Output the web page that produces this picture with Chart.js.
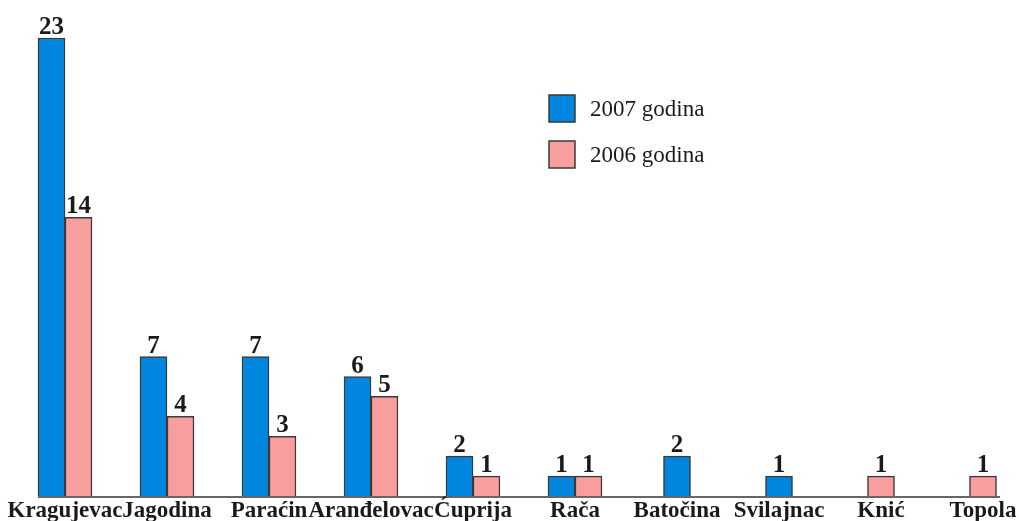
<!DOCTYPE html>
<html>
<head>
<meta charset="utf-8">
<script src="https://cdn.jsdelivr.net/npm/chart.js@4/dist/chart.umd.min.js"></script>
<style>
  html, body { margin: 0; padding: 0; background: #fff; }
  #wrap { width: 1019px; height: 521px; }
</style>
</head>
<body>
<div id="wrap"><canvas id="barChart" width="1019" height="521"></canvas></div>
<script>
const categories = ['Kragujevac', 'Jagodina', 'Paraćin', 'Aranđelovac', 'Ćuprija', 'Rača', 'Batočina', 'Svilajnac', 'Knić', 'Topola'];
const values2007 = [23, 7, 7, 6, 2, 1, 2, 1, null, null];
const values2006 = [14, 4, 3, 5, 1, 1, null, null, 1, 1];
const seriesLabels = ['2007 godina', '2006 godina'];

const BLUE = 'rgb(0, 134, 222)';
const PINK = 'rgb(248, 158, 158)';
const EDGE = '#3a3a3a';
const INK = '#1a1a1a';
const SERIF = "'Liberation Serif', 'Times New Roman', serif";

// value above every bar
const valueLabels = {
    id: 'valueLabels',
    afterDatasetsDraw(chart) {
        const ctx = chart.ctx;
        ctx.save();
        ctx.font = 'bold 25px ' + SERIF;
        ctx.fillStyle = INK;
        ctx.textAlign = 'center';
        ctx.textBaseline = 'alphabetic';
        chart.data.datasets.forEach((ds, i) => {
            const meta = chart.getDatasetMeta(i);
            meta.data.forEach((bar, j) => {
                if (ds.data[j] == null) return;
                ctx.fillText(String(ds.data[j]), bar.x, bar.y - 4);
            });
        });
        ctx.restore();
    }
};

// baseline under the bars, a bit wider than the plot
const baseLine = {
    id: 'baseLine',
    beforeDatasetsDraw(chart) {
        const ctx = chart.ctx;
        const y = chart.scales.y.getPixelForValue(0);
        ctx.save();
        ctx.strokeStyle = '#333';
        ctx.lineWidth = 1.5;
        ctx.beginPath();
        ctx.moveTo(chart.chartArea.left - 27, y + 1);
        ctx.lineTo(chart.chartArea.right + 17, y + 1);
        ctx.stroke();
        ctx.restore();
    }
};

// category names under the baseline (drawn by hand so accents are not clipped)
const categoryLabels = {
    id: 'categoryLabels',
    afterDraw(chart) {
        const ctx = chart.ctx;
        const xs = chart.scales.x;
        ctx.save();
        ctx.font = 'bold 23px ' + SERIF;
        ctx.fillStyle = INK;
        ctx.textAlign = 'center';
        ctx.textBaseline = 'alphabetic';
        chart.data.labels.forEach((lab, i) => {
            ctx.fillText(lab, xs.getPixelForTick(i), chart.chartArea.bottom + 21);
        });
        ctx.restore();
    }
};

// legend with squares, inside the plot
const boxLegend = {
    id: 'boxLegend',
    afterDraw(chart) {
        const ctx = chart.ctx;
        ctx.save();
        ctx.font = '23px ' + SERIF;
        ctx.textBaseline = 'middle';
        ctx.textAlign = 'left';
        chart.data.datasets.forEach((ds, i) => {
            const x = 549, y = 95 + i * 46;
            ctx.fillStyle = ds.backgroundColor;
            ctx.fillRect(x, y, 26, 27);
            ctx.strokeStyle = EDGE;
            ctx.lineWidth = 1.5;
            ctx.strokeRect(x, y, 26, 27);
            ctx.fillStyle = INK;
            ctx.fillText(ds.label, x + 41, y + 15);
        });
        ctx.restore();
    }
};

const config = {
    type: 'bar',
    data: {
        labels: categories,
        datasets: [
            {
                label: seriesLabels[0],
                data: values2007,
                backgroundColor: BLUE,
                borderColor: EDGE,
                borderWidth: 1.5,
                barThickness: 27,
                skipNull: true,
                clip: false
            },
            {
                label: seriesLabels[1],
                data: values2006,
                backgroundColor: PINK,
                borderColor: EDGE,
                borderWidth: 1.5,
                barThickness: 27,
                skipNull: true,
                clip: false
            }
        ]
    },
    options: {
        responsive: false,
        animation: false,
        layout: { padding: { left: 65, right: 36, top: 38, bottom: 25 } },
        plugins: {
            legend: { display: false },
            tooltip: { enabled: false }
        },
        scales: {
            x: {
                offset: false,
                grid: { display: false, drawTicks: false, tickLength: 0 },
                border: { display: false },
                ticks: { display: false, autoSkip: false, maxRotation: 0 }
            },
            y: {
                display: false,
                min: 0,
                max: 23
            }
        }
    },
    plugins: [baseLine, valueLabels, categoryLabels, boxLegend]
};

const barChart = new Chart(document.getElementById('barChart'), config);
</script>
</body>
</html>
